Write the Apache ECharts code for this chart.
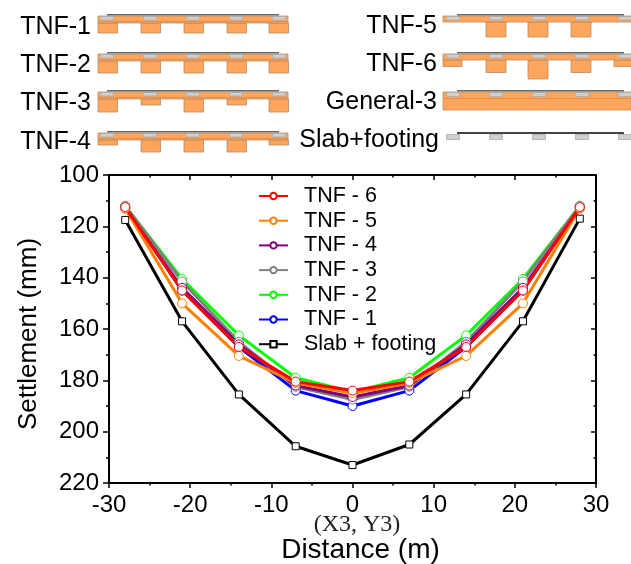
<!DOCTYPE html>
<html>
<head>
<meta charset="utf-8">
<style>html,body{margin:0;padding:0;background:#fff}#chart{width:631px;height:564px}</style>
<script src="https://cdn.jsdelivr.net/npm/echarts@6/dist/echarts.min.js"></script>
</head>
<body>
<div id="chart"></div>
<script>
var distance = [-28, -21, -14, -7, 0, 7, 14, 21, 28];
var slabFooting = [117.5, 157, 185.5, 205.7, 213, 205, 185.5, 157, 117];
var tnf1 = [112.5, 145, 167, 184, 190, 184, 167, 145, 112.5];
var tnf2 = [112, 140.5, 162.5, 179, 184.5, 179, 162.5, 140.5, 112];
var tnf3 = [112, 141.5, 165, 182.5, 187.5, 182.5, 165, 141.5, 112];
var tnf4 = [113, 144, 166, 182, 186.5, 182, 166, 144, 113];
var tnf5 = [113, 150, 170.5, 181, 185, 181, 170.5, 150, 113];
var tnf6 = [112.5, 145, 167, 180.5, 184, 180.5, 167, 145, 112.5];
var legendOrder = ['TNF - 6', 'TNF - 5', 'TNF - 4', 'TNF - 3', 'TNF - 2', 'TNF - 1', 'Slab + footing'];

var FONT = '"Liberation Sans", Arial, sans-serif';
var ORANGE = '#ffa65c', EDGE = '#b98a62', PAD = '#cfcfcf', TOPLINE = '#666';

function pairs(values) {
    return values.map(function (v, i) { return [distance[i], v]; });
}

function lineSeries(name, values, color, symbol, size) {
    return {
        name: name,
        type: 'line',
        data: pairs(values),
        symbol: symbol || 'circle',
        symbolSize: size || 9,
        showSymbol: true,
        lineStyle: { color: color, width: 3 },
        itemStyle: { color: '#fff', borderColor: color, borderWidth: 1 },
        emphasis: { disabled: true },
        z: 3
    };
}

// small cross-section sketches above the chart
var sketch = [];
function box(x, y, w, h, fill, stroke) {
    sketch.push({
        type: 'rect',
        shape: { x: x, y: y, width: w, height: h },
        style: { fill: fill, stroke: stroke || null, lineWidth: stroke ? 0.8 : 0 }
    });
}
function label(text, x, y) {
    sketch.push({
        type: 'text',
        style: { text: text, x: x, y: y, fill: '#000', font: '25px ' + FONT, textAlign: 'right', textVerticalAlign: 'middle' }
    });
}
function slabRow(o) {
    // columns under the slab
    o.cols.forEach(function (c) {
        box(c[0], o.top + o.slab, c[1], c[2], ORANGE, EDGE);
    });
    if (o.slab) {
        box(o.left, o.top, o.right - o.left, o.slab, ORANGE, EDGE);
    }
    if (o.band) {
        box(o.left, o.top + o.band, o.right - o.left, 1, '#e08f4e');
    }
    o.pads.forEach(function (x) {
        box(x - 6.5, o.top + o.padTop, 13, o.padH, PAD, '#aaa');
    });
    sketch.push({
        type: 'rect',
        shape: { x: o.lineFrom, y: o.top - 2, width: o.lineTo - o.lineFrom, height: o.lineH || 1.4 },
        style: { fill: o.lineColor || TOPLINE }
    });
}

var leftCols = [98, 141, 184, 227, 269];
var rightCols = [486, 528, 571];
var leftPads = [107, 150, 193, 236, 279];
var rightPads = [453, 496, 539, 582, 625];

function leftRow(top, depths) {
    slabRow({
        left: 98, right: 288, top: top, slab: 7, band: 5,
        cols: leftCols.map(function (x, i) { return [x, 19.5, depths[i]]; }),
        pads: leftPads, padTop: 0.5, padH: 3.5, lineFrom: 107, lineTo: 279
    });
}
leftRow(16, [10, 10, 10, 10, 10]);
leftRow(54, [12, 12, 12, 12, 12]);
leftRow(92, [13, 6, 13, 6, 13]);
leftRow(133, [5, 12, 12, 12, 5]);
label('TNF-1', 91, 27);
label('TNF-2', 91, 65.5);
label('TNF-3', 91, 103.5);
label('TNF-4', 91, 142.5);

slabRow({
    left: 443, right: 631, top: 16, slab: 6, cols: rightCols.map(function (x) { return [x, 20, 15]; }),
    pads: rightPads, padTop: 0.5, padH: 3.5, lineFrom: 457, lineTo: 624
});
slabRow({
    left: 443, right: 631, top: 54, slab: 6,
    cols: [[443, 19, 6.5], [486, 20, 12.5], [528, 20, 19], [571, 20, 12.5], [614, 19, 6.5]],
    pads: rightPads, padTop: 0.5, padH: 3.5, lineFrom: 457, lineTo: 624
});
slabRow({
    left: 443, right: 631, top: 92, slab: 18, band: 6, cols: [],
    pads: rightPads, padTop: 0.5, padH: 4, lineFrom: 457, lineTo: 624
});
slabRow({
    left: 447, right: 631, top: 134, slab: 0, cols: [],
    pads: rightPads, padTop: 0.5, padH: 5, lineFrom: 457, lineTo: 624, lineColor: '#444', lineH: 2
});
label('TNF-5', 437, 26);
label('TNF-6', 437, 64.5);
label('General-3', 437, 102.5);
label('Slab+footing', 439, 140);

sketch.push({
    type: 'text',
    style: { text: '(X3, Y3)', x: 357, y: 525, fill: '#222', font: '24px "Liberation Serif", serif', textAlign: 'center', textVerticalAlign: 'middle' }
});

var axisLine = { show: true, onZero: false, lineStyle: { color: '#000', width: 2 } };
var tickLine = { color: '#000', width: 1.5 };

var option = {
    animation: false,
    backgroundColor: '#fff',
    textStyle: { fontFamily: FONT },
    grid: { left: 109, right: 35, top: 175, bottom: 81, containLabel: false, outerBoundsMode: 'none' },
    legend: {
        data: legendOrder,
        orient: 'vertical',
        left: 253,
        top: 180,
        itemWidth: 29,
        itemHeight: 8,
        itemGap: 2.7,
        textStyle: { fontSize: 21.5, color: '#000', fontFamily: FONT, padding: [0, 0, 0, 11] },
        selectedMode: false
    },
    xAxis: [{
        type: 'value', min: -30, max: 30, interval: 10, position: 'bottom',
        name: 'Distance (m)', nameLocation: 'middle', nameGap: 53,
        nameTextStyle: { fontSize: 28, color: '#000', padding: [0, 0, 0, 16] },
        axisLine: axisLine,
        axisTick: { show: true, length: 5, inside: false, lineStyle: tickLine },
        minorTick: { show: true, splitNumber: 2, length: 2.5, lineStyle: tickLine },
        axisLabel: { fontSize: 24, color: '#000', margin: 10, showMinLabel: true, showMaxLabel: true },
        splitLine: { show: false }
    }, {
        type: 'value', min: -30, max: 30, interval: 10, position: 'top',
        axisLine: axisLine,
        axisTick: { show: true, length: 5, inside: true, lineStyle: tickLine },
        minorTick: { show: true, splitNumber: 2, length: 2.5, lineStyle: tickLine },
        axisLabel: { show: false },
        splitLine: { show: false }
    }],
    yAxis: [{
        type: 'value', min: 100, max: 220, interval: 20, inverse: true, position: 'left',
        name: 'Settlement (mm)', nameLocation: 'middle', nameGap: 67, nameRotate: 90,
        nameTextStyle: { fontSize: 26, color: '#000', padding: [0, 10, 0, 0] },
        axisLine: axisLine,
        axisTick: { show: true, length: 6, inside: false, lineStyle: tickLine },
        minorTick: { show: true, splitNumber: 2, length: 3, lineStyle: tickLine },
        axisLabel: { fontSize: 24, color: '#000', margin: 10, showMinLabel: true, showMaxLabel: true },
        splitLine: { show: false }
    }, {
        type: 'value', min: 100, max: 220, interval: 20, inverse: true, position: 'right',
        axisLine: axisLine,
        axisTick: { show: true, length: 5, inside: true, lineStyle: tickLine },
        minorTick: { show: true, splitNumber: 2, length: 2.5, lineStyle: tickLine },
        axisLabel: { show: false },
        splitLine: { show: false }
    }],
    graphic: { elements: sketch },
    series: [
        lineSeries('Slab + footing', slabFooting, '#000', 'rect', 7),
        lineSeries('TNF - 1', tnf1, '#0000ff'),
        lineSeries('TNF - 2', tnf2, '#00ff00'),
        lineSeries('TNF - 3', tnf3, '#808080'),
        lineSeries('TNF - 4', tnf4, '#800080'),
        lineSeries('TNF - 5', tnf5, '#ff8000'),
        lineSeries('TNF - 6', tnf6, '#ff0000')
    ]
};

var myChart = echarts.init(document.getElementById('chart'), null, { renderer: 'canvas' });
myChart.setOption(option);
</script>
</body>
</html>
